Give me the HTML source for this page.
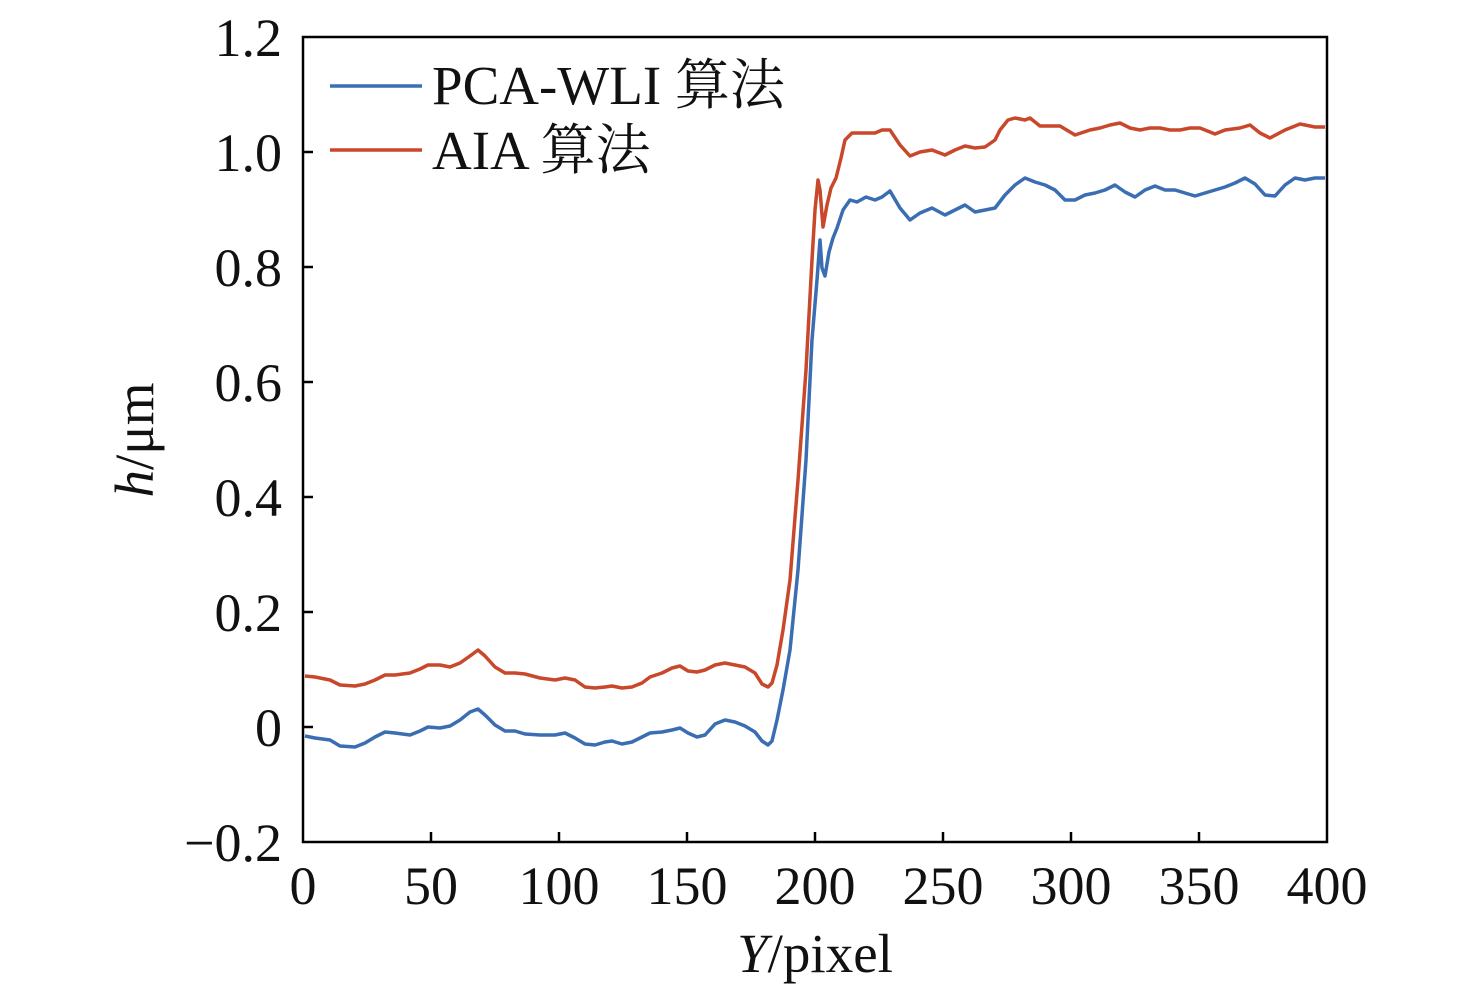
<!DOCTYPE html><html><head><meta charset="utf-8"><style>body{margin:0;background:#fff}</style></head><body>
<svg width="1476" height="994" xmlns="http://www.w3.org/2000/svg" font-family="'Liberation Serif','Noto Serif CJK SC',serif" font-size="54">
<rect width="1476" height="994" fill="#fff"/>
<g fill="none" stroke-width="3.5" stroke-linejoin="round">
<polyline stroke="#3b6db3" points="305,736 315,738 330,740 340,746 355,747 365,743 375,737 385,732 395,733 410,735 420,731 428,727 440,728 450,726 460,720 470,712 478,709 485,715 495,725 505,731 515,731 525,734 540,735 555,735 565,733 575,738 585,744 595,745 605,742 612,741 622,744 632,742 642,737 650,733 662,732 672,730 680,728 688,733 697,737 705,735 715,724 725,720 735,722 745,726 755,732 762,741 768,745 772,741 777,720 783,690 790,650 798,570 806,460 812,340 817,280 820,240 822,268 825,276 829,252 833,238 837,228 843,210 850,200 857,202 866,197 875,200 882,197 890,191 900,208 910,220 920,213 932,208 945,215 955,210 965,205 975,212 985,210 995,208 1005,195 1015,185 1025,178 1035,182 1045,185 1055,190 1065,200 1075,200 1085,195 1095,193 1105,190 1115,185 1125,192 1135,197 1145,190 1155,186 1165,190 1175,190 1185,193 1195,196 1205,193 1215,190 1225,187 1235,183 1245,178 1255,184 1265,195 1275,196 1285,185 1295,178 1305,180 1315,178 1325,178"/>
<polyline stroke="#c9472a" points="305,676 315,677 330,680 340,685 355,686 365,684 375,680 385,675 395,675 410,673 420,669 428,665 440,665 450,667 460,663 470,656 478,650 485,656 495,667 505,673 515,673 525,674 540,678 555,680 565,678 575,680 585,687 595,688 605,687 612,686 622,688 632,687 642,683 650,677 662,673 672,668 680,666 688,671 697,672 705,670 715,665 725,663 735,665 745,667 755,673 762,684 768,687 772,683 777,665 783,630 790,580 798,480 806,370 812,260 815,210 818,180 820,190 823,227 827,205 831,188 836,178 841,158 845,140 852,133 865,133 875,133 882,130 890,130 900,145 910,156 920,152 932,150 945,155 955,150 965,146 975,148 985,147 995,140 1000,130 1008,120 1015,118 1025,120 1030,118 1040,126 1050,126 1060,126 1075,135 1090,130 1100,128 1110,125 1120,123 1130,128 1140,130 1150,128 1160,128 1170,130 1180,130 1190,128 1200,128 1215,134 1225,130 1240,128 1250,125 1260,133 1270,138 1285,130 1300,124 1315,127 1325,127"/>
</g>
<g stroke="#000" stroke-width="2.5" fill="none">
<rect x="303" y="37" width="1024" height="805"/>
<path d="M303,727h10M303,612h10M303,497h10M303,382h10M303,267h10M303,152h10M431,842v-10M559,842v-10M687,842v-10M815,842v-10M943,842v-10M1071,842v-10M1199,842v-10"/>
</g>
<g text-anchor="end" fill="#111">
<text x="282" y="56">1.2</text><text x="282" y="171">1.0</text><text x="282" y="286">0.8</text><text x="282" y="401">0.6</text><text x="282" y="516">0.4</text><text x="282" y="631">0.2</text><text x="282" y="746">0</text><text x="282" y="861">−0.2</text>
</g>
<g text-anchor="middle" fill="#111">
<text x="303" y="904">0</text><text x="431" y="904">50</text><text x="559" y="904">100</text><text x="687" y="904">150</text><text x="815" y="904">200</text><text x="943" y="904">250</text><text x="1071" y="904">300</text><text x="1199" y="904">350</text><text x="1327" y="904">400</text>
<text x="815" y="972" font-size="55"><tspan font-style="italic">Y</tspan>/pixel</text>
<text transform="translate(153,440) rotate(-90)" font-size="55"><tspan font-style="italic">h</tspan>/μm</text>
</g>
<line x1="330" y1="86" x2="422" y2="86" stroke="#3b6db3" stroke-width="3.5"/>
<line x1="330" y1="150" x2="422" y2="150" stroke="#c9472a" stroke-width="3.5"/>
<text x="432" y="104" fill="#111" font-size="55">PCA-WLI 算法</text>
<text x="432" y="169" fill="#111" font-size="55">AIA 算法</text>
</svg></body></html>
